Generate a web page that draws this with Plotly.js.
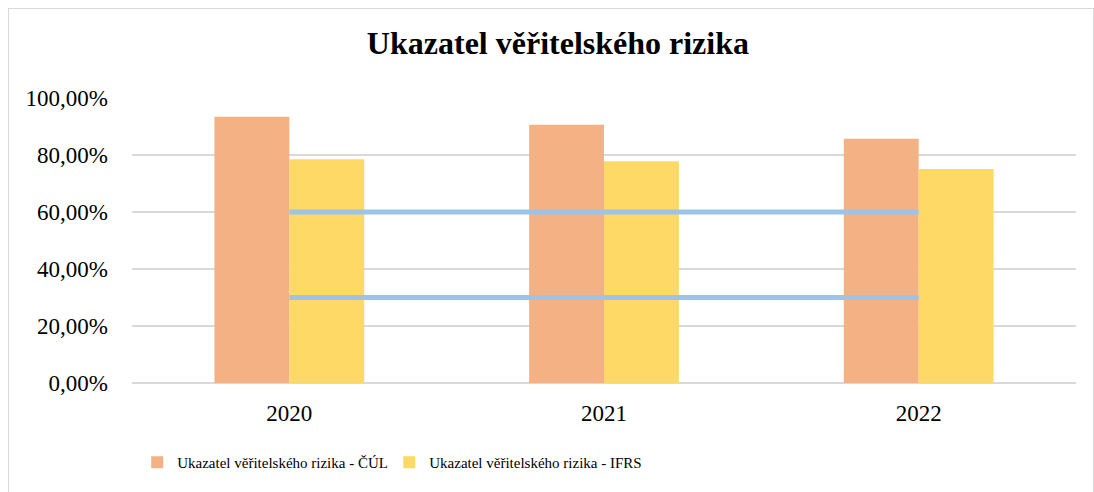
<!DOCTYPE html>
<html>
<head>
<meta charset="utf-8">
<script src="https://cdn.plot.ly/plotly-3.0.1.min.js"></script>
<style>
  html, body { margin: 0; padding: 0; background: #fff; }
  #wrap { position: relative; width: 1094px; height: 492px; }
  #chart { width: 1094px; height: 492px; }
  #frame { position: absolute; left: 8px; top: 8px; width: 1084px; height: 500px;
           border: 1px solid #d9d9d9; pointer-events: none; }
</style>
</head>
<body>
<div id="wrap">
  <div id="chart"></div>
  <div id="frame"></div>
</div>
<script>
const years = ['2020', '2021', '2022'];
const seriesNames = ['Ukazatel věřitelského rizika - ČÚL', 'Ukazatel věřitelského rizika - IFRS'];
const valuesCUL = [0.934, 0.906, 0.857];
const valuesIFRS = [0.785, 0.778, 0.751];
const limitX = ['2020', '2022'];
const limitUpper = [0.60, 0.60];
const limitLower = [0.30, 0.30];
const yTickVals = [0, 0.2, 0.4, 0.6, 0.8, 1.0];

const serif = '"Liberation Serif", "Times New Roman", serif';

const data = [
  { type: 'bar', name: seriesNames[0], x: years, y: valuesCUL, legend: 'legend',
    marker: { color: '#F4B183', line: { width: 0 } } },
  { type: 'bar', name: seriesNames[1], x: years, y: valuesIFRS, legend: 'legend2',
    marker: { color: '#FFD966', line: { width: 0 } } },
  { type: 'scatter', mode: 'lines', x: limitX, y: limitUpper, showlegend: false,
    hoverinfo: 'skip', line: { color: '#9DC3E6', width: 5 } },
  { type: 'scatter', mode: 'lines', x: limitX, y: limitLower, showlegend: false,
    hoverinfo: 'skip', line: { color: '#9DC3E6', width: 5 } }
];

const legendFont = { family: serif, size: 15, color: '#000' };

const layout = {
  width: 1094, height: 492,
  paper_bgcolor: '#ffffff', plot_bgcolor: '#ffffff',
  margin: { l: 132, r: 18, t: 98, b: 109, pad: 0 },
  separators: ', ',
  font: { family: serif, color: '#000000', size: 20 },
  title: { text: '<b>Ukazatel věřitelského rizika</b>', font: { family: serif, size: 32, color: '#000' },
           xref: 'container', x: 0.51, xanchor: 'center', yref: 'container', y: 0.914, yanchor: 'middle' },
  barmode: 'group', bargap: 0.524, bargroupgap: 0,
  xaxis: { type: 'category', showgrid: false, showline: false, zeroline: false,
           ticks: '', tickfont: { family: serif, size: 23, color: '#000' }, ticklabelstandoff: 14 },
  yaxis: { range: [0, 1], tickvals: yTickVals, tickformat: '.2%', showgrid: true,
           gridcolor: '#d9d9d9', gridwidth: 1.5, zeroline: true, zerolinecolor: '#d9d9d9', zerolinewidth: 1.5,
           showline: false, ticks: '', tickfont: { family: serif, size: 23, color: '#000' }, ticklabelstandoff: 23 },
  showlegend: true,
  legend: { orientation: 'h', x: 0.0055, xanchor: 'left', y: -0.279, yanchor: 'middle',
            font: legendFont, bgcolor: 'rgba(0,0,0,0)' },
  legend2: { orientation: 'h', x: 0.2725, xanchor: 'left', y: -0.279, yanchor: 'middle',
            font: legendFont, bgcolor: 'rgba(0,0,0,0)' }
};

Plotly.newPlot('chart', data, layout, { displayModeBar: false, staticPlot: true });
</script>
</body>
</html>
